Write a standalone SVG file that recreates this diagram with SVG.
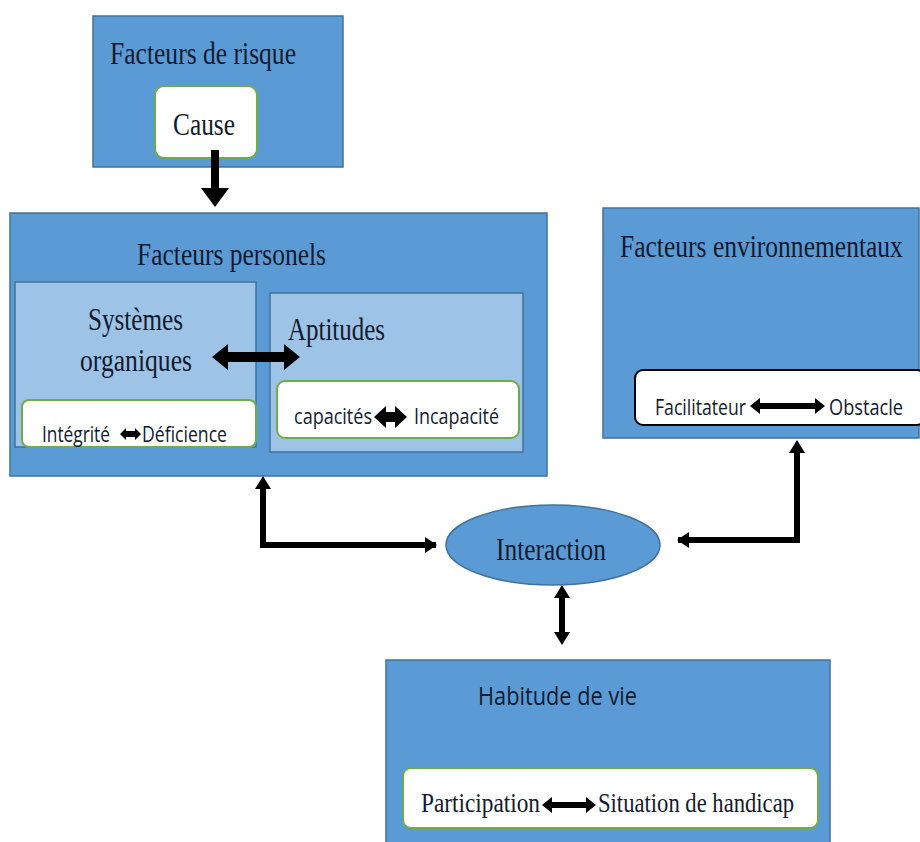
<svg xmlns="http://www.w3.org/2000/svg" width="920" height="842" viewBox="0 0 920 842">
<style>
.blue{fill:#5B9BD5;stroke:#41719C;stroke-width:1.5}
.light{fill:#9DC3E6;stroke:#41719C;stroke-width:1.5}
.white{fill:#FFFFFF;stroke:#70AD47;stroke-width:2}
.wblack{fill:#FFFFFF;stroke:#000000;stroke-width:2}
.serif{font-family:"Liberation Serif","Times New Roman",serif;fill:#111A2E}
.sans{font-family:"Open Sans","Liberation Sans",sans-serif;fill:#111A2E}
.conn{stroke:#000;stroke-width:6;fill:none}
.blk{fill:#000}
</style>
<defs>
<marker id="ah" markerWidth="12" markerHeight="16" refX="11" refY="8" orient="auto-start-reverse" markerUnits="userSpaceOnUse">
<path d="M0,0 L12,8 L0,16 Z" fill="#000"/>
</marker>
</defs>
<rect width="920" height="842" fill="#FFFFFF"/>

<g id="facteurs-risque">
<rect class="blue" x="93" y="16" width="250" height="151"/>
<text class="serif" x="110" y="64" font-size="31" textLength="186" lengthAdjust="spacingAndGlyphs">Facteurs de risque</text>
<g id="cause">
<rect class="white" x="155" y="86" width="102" height="72" rx="9"/>
<text class="serif" x="173" y="135" font-size="31" textLength="62" lengthAdjust="spacingAndGlyphs">Cause</text>
</g>
</g>

<g id="facteurs-personels">
<rect class="blue" x="10" y="213" width="537" height="263"/>
<text class="serif" x="137" y="265" font-size="31" textLength="189" lengthAdjust="spacingAndGlyphs">Facteurs personels</text>
<g id="systemes-organiques">
<rect class="light" x="15" y="282" width="241" height="165"/>
<text class="serif" x="88" y="330" font-size="31" textLength="95" lengthAdjust="spacingAndGlyphs">Systèmes</text>
<text class="serif" x="80" y="371" font-size="31" textLength="112" lengthAdjust="spacingAndGlyphs">organiques</text>
<g id="integrite">
<rect class="white" x="22" y="400" width="234" height="47" rx="7"/>
<text class="sans" x="42" y="442" font-size="21" textLength="68" lengthAdjust="spacingAndGlyphs">Intégrité</text>
<path class="blk" d="M120,434 L126,428 L126,431 L135,431 L135,428 L141,434 L135,440 L135,437 L126,437 L126,440 Z"/>
<text class="sans" x="142" y="442" font-size="21" textLength="85" lengthAdjust="spacingAndGlyphs">Déficience</text>
</g>
</g>
<g id="aptitudes">
<rect class="light" x="270" y="293" width="253" height="159"/>
<text class="serif" x="288" y="340" font-size="31" textLength="97" lengthAdjust="spacingAndGlyphs">Aptitudes</text>
<g id="capacites">
<rect class="white" x="277" y="381" width="242" height="57" rx="8"/>
<text class="sans" x="294" y="424" font-size="21" textLength="78" lengthAdjust="spacingAndGlyphs">capacités</text>
<path class="blk" d="M374,417 L386,406 L386,412 L395,412 L395,406 L407,417 L395,428 L395,422 L386,422 L386,428 Z"/>
<text class="sans" x="414" y="424" font-size="21" textLength="85" lengthAdjust="spacingAndGlyphs">Incapacité</text>
</g>
</g>
</g>

<g id="facteurs-environnementaux">
<rect class="blue" x="603" y="208" width="316" height="230"/>
<text class="serif" transform="translate(620,257) scale(0.82,1)" x="0" y="0" font-size="31" textLength="345" lengthAdjust="spacingAndGlyphs">Facteurs environnementaux</text>
<g id="facilitateur">
<rect class="wblack" x="635" y="370" width="290" height="55" rx="8"/>
<text class="sans" x="655" y="415" font-size="21" textLength="91" lengthAdjust="spacingAndGlyphs">Facilitateur</text>
<path class="blk" d="M750,406 L760,398 L760,403 L815,403 L815,398 L825,406 L815,414 L815,409 L760,409 L760,414 Z"/>
<text class="sans" x="829" y="415" font-size="21" textLength="74" lengthAdjust="spacingAndGlyphs">Obstacle</text>
</g>
</g>

<g id="interaction">
<ellipse cx="553" cy="545" rx="107" ry="40" fill="#5B9BD5" stroke="#41719C" stroke-width="1.5"/>
<text class="serif" x="496" y="560" font-size="31" textLength="110" lengthAdjust="spacingAndGlyphs">Interaction</text>
</g>

<g id="habitude-de-vie">
<rect class="blue" x="386" y="660" width="444" height="190"/>
<text class="sans" x="478" y="705" font-size="25" textLength="159" lengthAdjust="spacingAndGlyphs">Habitude de vie</text>
<g id="participation">
<rect class="white" x="403" y="768" width="415" height="60" rx="8"/>
<text class="serif" x="421" y="812" font-size="28" textLength="119" lengthAdjust="spacingAndGlyphs">Participation</text>
<path class="blk" d="M542,805 L552,797 L552,802 L586,802 L586,797 L596,805 L586,813 L586,808 L552,808 L552,813 Z"/>
<text class="serif" x="598" y="812" font-size="28" textLength="196" lengthAdjust="spacingAndGlyphs">Situation de handicap</text>
</g>
</g>

<g id="connectors">
<path d="M211,150 L211,189 L219,189 L219,150 Z" class="blk"/>
<path d="M201,188 L229,188 L215,207 Z" class="blk"/>
<path class="blk" d="M212,357 L228,344 L228,352 L284,352 L284,344 L300,357 L284,370 L284,362 L228,362 L228,370 Z"/>
<path class="conn" d="M263,488 L263,545 L436,545" marker-end="url(#ah)"/>
<path class="blk" d="M255,489 L271,489 L263,476 Z"/>
<path class="conn" d="M797,452 L797,540 L678,540" marker-end="url(#ah)"/>
<path class="blk" d="M789,453 L805,453 L797,440 Z"/>
<path class="conn" d="M562,597 L562,633"/>
<path class="blk" d="M554,598 L570,598 L562,585 Z"/>
<path class="blk" d="M554,632 L570,632 L562,645 Z"/>
</g>
</svg>
